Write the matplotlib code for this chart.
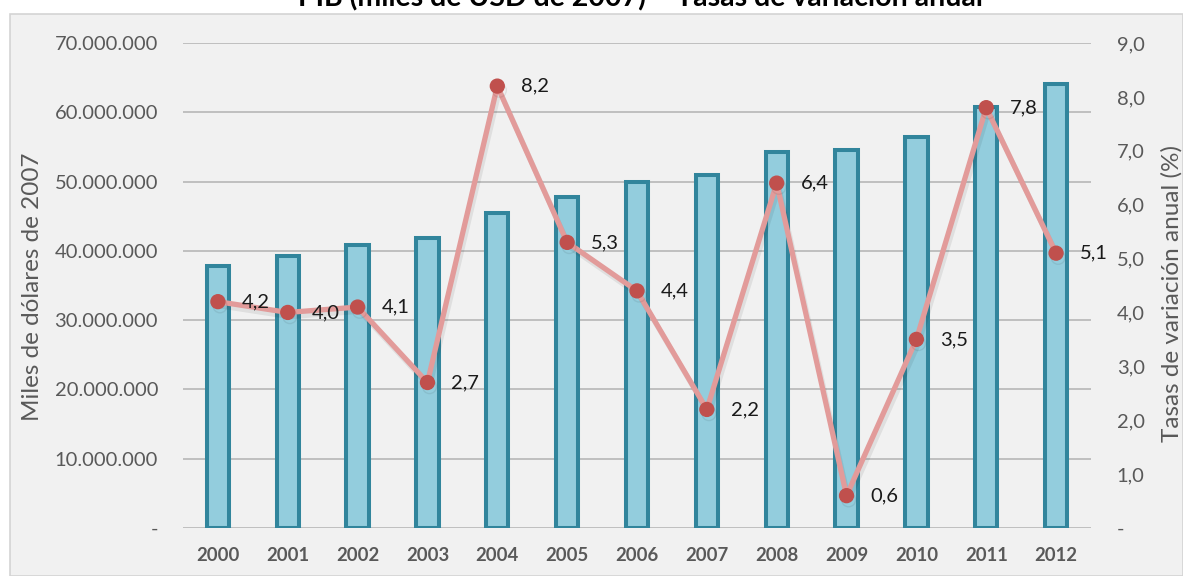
import matplotlib
matplotlib.use("Agg")
import matplotlib.pyplot as plt
from matplotlib.patches import Rectangle
from matplotlib.ticker import FuncFormatter, MultipleLocator
import matplotlib.patheffects as pe

plt.rcParams['font.family'] = ['Lato', 'DejaVu Sans']

years = ['2000', '2001', '2002', '2003', '2004', '2005', '2006',
         '2007', '2008', '2009', '2010', '2011', '2012']
pib = [37.8e6, 39.3e6, 40.8e6, 41.9e6, 45.5e6, 47.8e6, 49.9e6,
       50.9e6, 54.2e6, 54.6e6, 56.5e6, 60.8e6, 64.1e6]
tasa = [4.2, 4.0, 4.1, 2.7, 8.2, 5.3, 4.4, 2.2, 6.4, 0.6, 3.5, 7.8, 5.1]

title = 'PIB (miles de USD de 2007) – Tasas de variación anual'
ylabel_left = 'Miles de dólares de 2007'
ylabel_right = 'Tasas de variación anual (%)'

W, H = 1183, 576
fig = plt.figure(figsize=(W / 100, H / 100), dpi=100, facecolor='white')

# chart panel background
fig.patches.append(Rectangle((10 / W, 0), 1 - 10 / W, 1 - 14 / H,
                             transform=fig.transFigure, facecolor='#F1F1F1',
                             edgecolor='#D4D4D4', linewidth=1.2, zorder=-5))

ax = fig.add_axes([183 / W, 1 - 528 / H, (1091 - 183) / W, (528 - 43) / H])
ax.set_facecolor('none')
x = list(range(len(years)))

ax.bar(x, pib, width=0.32, color='#93CDDD', edgecolor='#31859C',
       linewidth=2.9, zorder=3)
ax.set_xlim(-0.5, len(years) - 0.5)
ax.set_ylim(0, 70e6)
ax.yaxis.set_major_locator(MultipleLocator(10e6))


def fmt_left(v, pos):
    if abs(v) < 1:
        return '-'
    return f'{int(round(v)):,}'.replace(',', '.')


ax.yaxis.set_major_formatter(FuncFormatter(fmt_left))
ax.set_xticks(x)
ax.set_xticklabels(years, fontweight='bold', fontsize=13.3, color='#595959')
ax.tick_params(axis='x', length=0, pad=14)
ax.tick_params(axis='y', length=0, pad=18, labelsize=14.5, labelcolor='#595959')
for s in ax.spines.values():
    s.set_visible(False)
ax.grid(axis='y', color='#BFBFBF', linewidth=1.4, zorder=1)
ax.set_axisbelow(True)
gl = ax.get_ygridlines()
gl[0].set_color('#D9D9D9')

ax2 = ax.twinx()
ax2.set_ylim(0, 9)
ax2.yaxis.set_major_locator(MultipleLocator(1))


def fmt_right(v, pos):
    if abs(v) < 1e-9:
        return '-'
    return f'{v:.1f}'.replace('.', ',')


ax2.yaxis.set_major_formatter(FuncFormatter(fmt_right))
ax2.tick_params(axis='y', length=0, pad=18.5, labelsize=14.5, labelcolor='#595959')
for s in ax2.spines.values():
    s.set_visible(False)

ax2.plot(x, tasa, color='#E29B9A', linewidth=3.8, zorder=4,
         marker='o', markersize=10, markerfacecolor='#C0504D',
         markeredgecolor='#C0504D',
         path_effects=[pe.SimpleLineShadow(offset=(1.5, -3), alpha=0.07,
                                           shadow_color='black'), pe.Normal()])
for xi, v in zip(x, tasa):
    ax2.annotate(f'{v:.1f}'.replace('.', ','), (xi, v), xytext=(24, 0),
                 textcoords='offset pixels', ha='left', va='center',
                 fontsize=14.5, color='#1A1A1A', zorder=5)

fig.text(33 / W, 1 - 287 / H, ylabel_left, rotation=90, ha='center',
         va='center', fontsize=17.5, color='#595959')
fig.text(1172 / W, 1 - 294 / H, ylabel_right, rotation=90, ha='center',
         va='center', fontsize=17.5, color='#595959')
fig.text(640 / W, 1 - 6 / H, title, ha='center', va='baseline',
         fontsize=20.5, fontweight='bold', color='black')

fig.savefig('out.png', dpi=100, facecolor='white')
